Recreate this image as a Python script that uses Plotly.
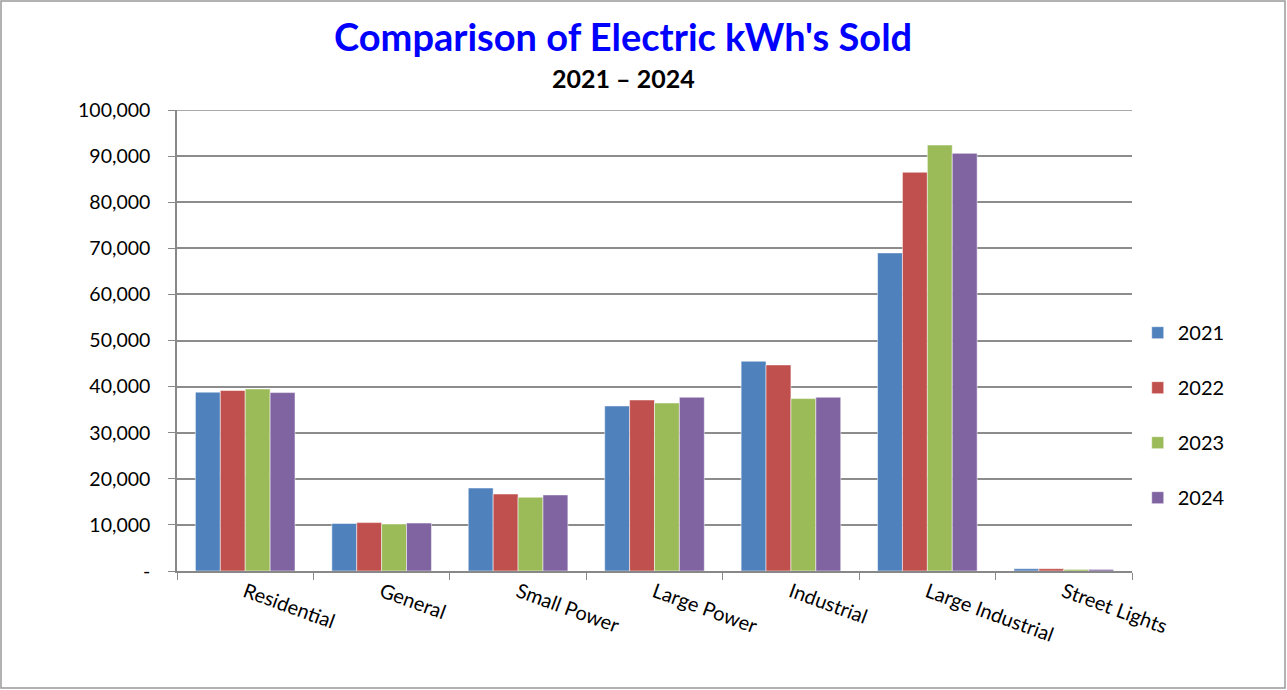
import plotly.graph_objects as go

categories = ["Residential", "General", "Small Power", "Large Power", "Industrial", "Large Industrial", "Street Lights"]
years = ["2021", "2022", "2023", "2024"]
v2021 = [38800, 10300, 18000, 35800, 45500, 69000, 500]
v2022 = [39150, 10500, 16700, 37100, 44700, 86500, 500]
v2023 = [39500, 10200, 16000, 36450, 37400, 92400, 350]
v2024 = [38700, 10400, 16500, 37700, 37700, 90600, 350]
colors = ["#4F81BD", "#C0504D", "#9BBB59", "#8064A2"]
ytickvals = [0, 10000, 20000, 30000, 40000, 50000, 60000, 70000, 80000, 90000, 100000]
yticktext = ["-", "10,000", "20,000", "30,000", "40,000", "50,000", "60,000", "70,000", "80,000", "90,000", "100,000"]

FONT = "Lato"
fig = go.Figure()
for name, vals, col in zip(years, [v2021, v2022, v2023, v2024], colors):
    fig.add_trace(go.Bar(x=categories, y=vals, name=name, legendgroup=name,
                         marker=dict(color=col, line=dict(color="rgba(255,255,255,0.5)", width=1))))

L, R, T, B = 177, 155, 110, 119
W, H = 1287, 690
pw, ph = W - L - R, H - T - B

fig.update_layout(
    width=W, height=H,
    margin=dict(l=L, r=R, t=T, b=B),
    paper_bgcolor="white", plot_bgcolor="white",
    barmode="group", bargap=0.27, bargroupgap=0,
    font=dict(family=FONT, color="black"),
    showlegend=True,
    legend=dict(x=1.006, xanchor="left", y=0.338, yanchor="middle",
                font=dict(size=20, family=FONT), tracegroupgap=26,
                bgcolor="rgba(0,0,0,0)", itemwidth=30),
    xaxis=dict(showline=True, linecolor="#888888", linewidth=1.5,
               ticks="outside", tickson="boundaries", ticklen=7, tickcolor="#888888",
               tickangle=20, tickfont=dict(size=20, family=FONT), showgrid=False),
    yaxis=dict(range=[0, 100000], tickvals=ytickvals, ticktext=yticktext,
               showline=True, linecolor="#888888", linewidth=1.5,
               ticks="outside", ticklen=7, tickcolor="#888888",
               showgrid=True, gridcolor="#8c8c8c", gridwidth=1.5,
               tickfont=dict(size=19.5, family=FONT), ticklabelstandoff=14, zeroline=False),
)

fig.add_annotation(text="<b>Comparison of Electric kWh's Sold</b>", xref="paper", yref="paper",
                   x=(623 - L) / pw, y=(H - B - 36) / ph, xanchor="center", yanchor="middle",
                   showarrow=False, font=dict(size=38, color="#0000FF", family=FONT))
fig.add_annotation(text="<b>2021 – 2024</b>", xref="paper", yref="paper",
                   x=(623 - L) / pw, y=(H - B - 78) / ph, xanchor="center", yanchor="middle",
                   showarrow=False, font=dict(size=25, color="black", family=FONT))

fig.add_shape(type="line", xref="paper", yref="y", x0=0, x1=1, y0=100000, y1=100000,
              line=dict(color="#8c8c8c", width=1.5), layer="below")
fig.add_shape(type="rect", xref="paper", yref="paper",
              x0=(1 - L) / pw, x1=(1285 - L) / pw,
              y0=(H - B - 688) / ph, y1=(H - B - 1) / ph,
              line=dict(color="#999999", width=1.5), fillcolor="rgba(0,0,0,0)", layer="below")

fig.write_html("out.html")
